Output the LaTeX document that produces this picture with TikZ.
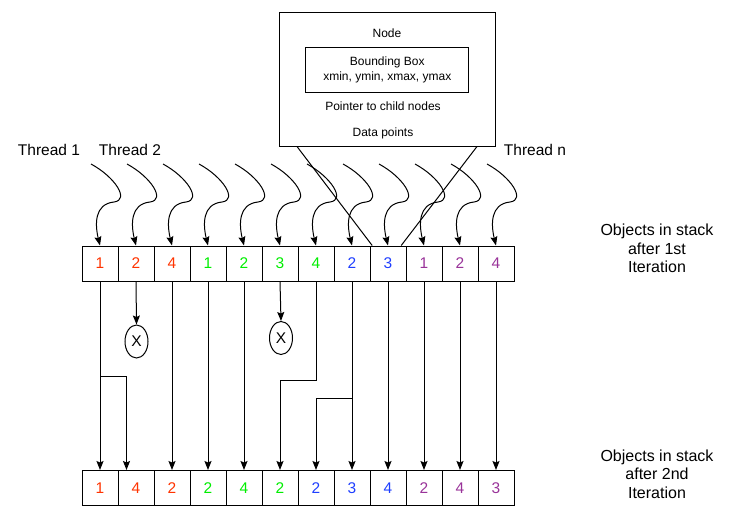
\documentclass[tikz,border=0pt]{standalone}
\usepackage{fontspec}
\setmainfont{Liberation Sans}
\usetikzlibrary{arrows.meta,shapes.geometric}
\definecolor{tred}{HTML}{FF3300}
\definecolor{tgreen}{HTML}{00EE00}
\definecolor{tblue}{HTML}{1F3FFF}
\definecolor{tpurple}{HTML}{993399}
\tikzset{
  cell/.style={draw,line width=1pt,minimum width=36pt,minimum height=35pt,inner sep=0pt,font=\fontsize{15.5}{18}\selectfont},
  arr/.style={-{Stealth[length=9pt,width=7pt,inset=1.5pt]},line width=1pt},
  gone/.style={draw,ellipse,line width=1pt,minimum width=23pt,minimum height=33pt,inner sep=0pt,font=\fontsize{15.5}{18}\selectfont},
  lbl/.style={font=\fontsize{15.5}{18.3}\selectfont,align=center},
  small/.style={font=\fontsize{12}{14.6}\selectfont,align=center}
}
\begin{document}
\begin{tikzpicture}[x=1pt,y=-1pt]
\useasboundingbox (0,0) rectangle (729,517);
% tree node
\node[draw,line width=1pt,minimum width=216pt,minimum height=134pt] (tree) at (387.5,79) {};
\node[small] (title) at (387,33) {Node};
\node[small,draw,line width=1pt,minimum width=163pt,minimum height=45pt,inner sep=0pt] (bbox) at (387.3,69.8) {Bounding Box\\xmin, ymin, xmax, ymax};
\node[small] (ptr) at (383,106) {Pointer to child nodes};
\node[small] (data) at (383,133) {Data points};
% threads
\node[lbl] (th1) at (49,150) {Thread 1};
\node[lbl] (th2) at (130,150) {Thread 2};
\node[lbl] (thn) at (535,150) {Thread n};
% stacks
\foreach \v/\col [count=\i] in {1/tred,2/tred,4/tred,1/tgreen,2/tgreen,3/tgreen,4/tgreen,2/tblue,3/tblue,1/tpurple,2/tpurple,4/tpurple}
  \node[cell,text=\col] (t\i) at ({64+36*\i},263.5) {\v};
\foreach \v/\col [count=\i] in {1/tred,4/tred,2/tred,2/tgreen,4/tgreen,2/tgreen,2/tblue,3/tblue,4/tblue,2/tpurple,4/tpurple,3/tpurple}
  \node[cell,text=\col] (b\i) at ({64+36*\i},488) {\v};
\node[lbl,font=\fontsize{16}{18.3}\selectfont] (first) at (657,248.5) {Objects in stack\\after 1st\\Iteration};
\node[lbl,font=\fontsize{16}{18.3}\selectfont] (second) at (657,474) {Objects in stack\\after 2nd\\Iteration};
% curly arrows from the threads
\foreach \i in {1,...,12}{
  \pgfmathsetmacro\c{64+36*\i}
  \coordinate (s\i) at (\c-9,164);
  \draw[arr] (s\i) .. controls (\c+15,177) and (\c+30,200) .. (\c+14,202)
    .. controls (\c-6,204) and (\c-5,225) .. (t\i.north);
}
\draw[line width=1pt] ([xshift=18pt]tree.south west) -- ([xshift=2.7pt]t9.north west);
\draw[line width=1pt] ([xshift=-19pt]tree.south east) -- ([xshift=-5.3pt]t9.north east);
% removed objects
\node[gone] (x1) at (136.5,341.5) {X};
\node[gone] (x2) at (281,338) {X};
\draw[arr] (t2.south) -- (x1.north);
\draw[arr] (t6.south) -- (x2.north);
% moves to the second stack
\foreach \i in {1,3,4,5,8,9,10,11,12}
  \draw[arr] (t\i.south) -- (b\i.north);
\coordinate (j1) at ([yshift=-95pt]t1.south);
\draw[arr] (j1) -| ([xshift=-9.5pt]b2.north);
\draw[arr] (t7.south) |- ([yshift=-99pt]t6.south) -- (b6.north);
\coordinate (j8) at ([yshift=-117pt]t8.south);
\draw[arr] (j8) -| (b7.north);
\end{tikzpicture}
\end{document}
